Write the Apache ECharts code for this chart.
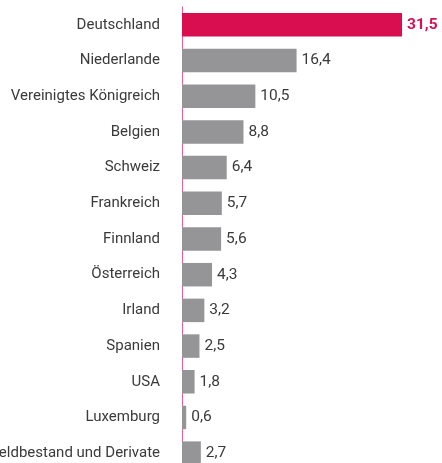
<!DOCTYPE html>
<html>
<head>
<meta charset="utf-8">
<script src="https://cdn.jsdelivr.net/npm/echarts@6/dist/echarts.min.js"></script>
<style>html,body{margin:0;padding:0;background:#fff;}#c{width:442px;height:463px;}</style>
</head>
<body>
<div id="c"></div>
<script>
const categories = ["Deutschland","Niederlande","Vereinigtes Königreich","Belgien","Schweiz","Frankreich","Finnland","Österreich","Irland","Spanien","USA","Luxemburg","Geldbestand und Derivate"];
const values = [31.5,16.4,10.5,8.8,6.4,5.7,5.6,4.3,3.2,2.5,1.8,0.6,2.7];
const highlight = "Deutschland";

const FONT = 'Roboto, "DejaVu Sans Condensed", sans-serif';
const chart = echarts.init(document.getElementById('c'), null, {renderer:'canvas'});
chart.setOption({
  animation:false,
  grid:{left:182, top:7, height:464, width:244.5, containLabel:false, outerBoundsMode:'none'},
  xAxis:{type:'value', min:0, max:35, show:false},
  yAxis:{type:'category', data:categories, inverse:true,
    axisLine:{show:true, lineStyle:{color:'#ee5f97', width:1}},
    axisTick:{show:false},
    axisLabel:{margin:22, color:'#3a3a3a', fontSize:15, fontFamily:FONT}
  },
  series:[{
    type:'bar', barWidth:23.5,
    data: values.map((v,i)=>({value:v,
      itemStyle:{color: categories[i]===highlight ? '#d80e51' : '#959598'},
      label: categories[i]===highlight ? {color:'#d80e51', fontWeight:'bold'} : {}
    })),
    label:{show:true, position:'right', distance:5, fontSize:15.5, fontFamily:FONT, color:'#3a3a3a',
      formatter: p => String(p.value).replace('.', ',')}
  }]
});
</script>
</body>
</html>
